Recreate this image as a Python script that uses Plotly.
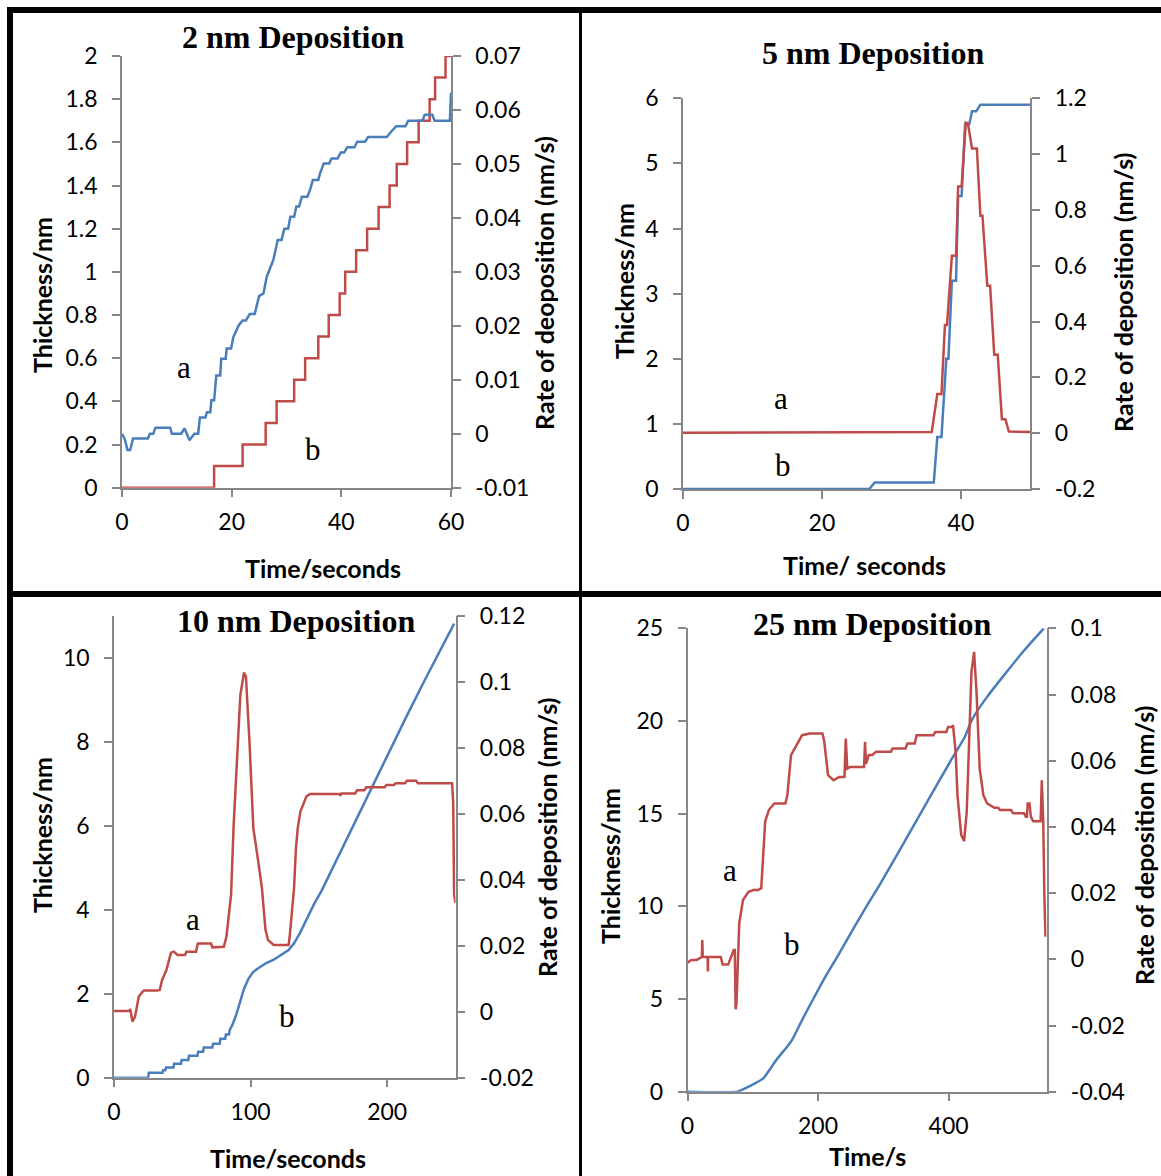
import plotly.graph_objects as go

W, H = 1161, 1176

# ---------------- data (time s, value) ----------------
# 2 nm deposition: thickness (red, step) and rate (blue)
thick_2nm_t = [0, 16.8, 22.0, 26.2, 28.2, 31.4, 33.4, 35.8, 37.7, 39.7, 40.7, 42.7,
               44.7, 46.8, 48.8, 50.1, 52.0, 54.1, 56.1, 57.1, 59.0, 60.0]
thick_2nm_v = [0, 0.1, 0.2, 0.3, 0.4, 0.5, 0.6, 0.7, 0.8, 0.9, 1.0, 1.1,
               1.2, 1.3, 1.4, 1.5, 1.6, 1.7, 1.8, 1.9, 2.0, 2.0]
rate_2nm = [(0, 0.0), (0.5, -0.001), (1.0, -0.003), (1.5, -0.003), (2.0, -0.0009), (4.7, -0.0009),
            (5.1, 0), (5.7, 0), (6.1, 0.0011), (8.8, 0.0011), (9.1, 0), (10.8, 0), (11.4, 0.001),
            (12.3, -0.0012), (13.2, 0), (13.9, 0), (14.2, 0.003), (15.2, 0.003), (15.5, 0.004),
            (16.1, 0.004), (16.3, 0.0062), (16.8, 0.0062), (17.2, 0.0108), (17.9, 0.0108),
            (18.1, 0.0139), (18.9, 0.0139), (19.1, 0.0158), (19.9, 0.0158), (20.3, 0.0179),
            (21.3, 0.0201), (22.0, 0.021), (22.6, 0.021), (23.3, 0.0222), (24.2, 0.0222),
            (25.0, 0.0255), (25.8, 0.026), (26.4, 0.0291), (27.6, 0.0322), (28.4, 0.0359),
            (29.1, 0.0359), (29.6, 0.038), (30.3, 0.038), (30.7, 0.0402), (31.4, 0.0402),
            (31.8, 0.0421), (32.3, 0.0421), (32.8, 0.0439), (33.8, 0.0439), (34.3, 0.0452),
            (34.8, 0.047), (35.8, 0.047), (36.1, 0.0482), (36.8, 0.0501), (37.8, 0.0501),
            (38.2, 0.051), (39.3, 0.051), (39.9, 0.0521), (40.5, 0.0521), (41.1, 0.0531),
            (42.4, 0.0531), (42.9, 0.0541), (44.3, 0.0541), (44.9, 0.055), (48.3, 0.055),
            (49.2, 0.0561), (50.0, 0.057), (51.7, 0.057), (52.2, 0.058), (54.8, 0.058),
            (55.2, 0.0591), (56.6, 0.0591), (57.0, 0.058), (59.8, 0.058), (60.0, 0.0632)]

# 5 nm deposition: thickness (blue) and rate (red)
thick_5nm = [(0, 0), (26.8, 0), (27.6, 0.1), (36.1, 0.1), (36.6, 0.8), (37.2, 0.8), (37.9, 2.0),
             (38.2, 2.0), (38.7, 3.2), (39.3, 3.2), (39.6, 4.5), (40.1, 4.5), (40.6, 5.6),
             (41.2, 5.6), (41.6, 5.8), (42.2, 5.8), (42.8, 5.9), (50, 5.9)]
rate_5nm = [(0, 0.002), (35.8, 0.004), (36.6, 0.14), (37.2, 0.14), (37.7, 0.388), (38.0, 0.388),
            (38.7, 0.636), (39.3, 0.636), (39.6, 0.884), (40.1, 0.884), (40.7, 1.113), (41.0, 1.11),
            (41.6, 1.02), (42.3, 1.02), (42.8, 0.779), (43.1, 0.779), (43.8, 0.528), (44.2, 0.528),
            (44.8, 0.281), (45.3, 0.281), (45.9, 0.05), (46.4, 0.05), (46.9, 0.006), (50, 0.004)]

# 10 nm deposition
thick_10nm = [(0, 0), (25.0, 0), (25.5, 0.12), (35.5, 0.12), (36.0, 0.18), (37.6, 0.18), (38.1, 0.24),
              (43.5, 0.24), (44.0, 0.33), (49.0, 0.33), (49.5, 0.42), (54.4, 0.42), (54.9, 0.52),
              (61.1, 0.52), (61.6, 0.62), (65.2, 0.62), (65.7, 0.72), (72.0, 0.72), (72.5, 0.81),
              (77.4, 0.81), (77.9, 0.93), (81.4, 0.93), (81.9, 1.03), (84.2, 1.03), (84.7, 1.13),
              (87.1, 1.29), (89.8, 1.53), (92.5, 1.84), (95.2, 2.12), (98.5, 2.36), (102, 2.52),
              (106.1, 2.62), (111.5, 2.73), (116.9, 2.81), (122.4, 2.92), (127.8, 3.04),
              (131.8, 3.2), (135.9, 3.43), (141.3, 3.79), (146.7, 4.15), (152.1, 4.46),
              (160.2, 5.0), (187.3, 6.84), (214.4, 8.62), (228, 9.5), (249, 10.81)]
rate_10nm = [(0, 0.0002), (11.3, 0.0002), (11.9, 0.0008), (13.5, -0.003), (15.4, -0.0015),
             (18.1, 0.0045), (20.8, 0.006), (22, 0.0064), (31.7, 0.0064), (33.5, 0.0066),
             (35.2, 0.0096), (38.4, 0.0126), (41.7, 0.0179), (43.8, 0.0182), (46.5, 0.0172),
             (52, 0.0172), (53, 0.0182), (60, 0.0182), (61.4, 0.0207), (71, 0.0207), (72, 0.0195),
             (79, 0.0195), (80.4, 0.0197), (82.3, 0.0227), (85.7, 0.0354), (87.6, 0.0566),
             (89.8, 0.076), (92.5, 0.096), (95.2, 0.1028), (96.6, 0.1015), (99.3, 0.0808),
             (102, 0.0556), (105.6, 0.0455), (108.3, 0.0374), (110.9, 0.0248), (112.8, 0.0217),
             (116.9, 0.0202), (127.8, 0.0202), (128.6, 0.0227), (130.5, 0.0328), (131.8, 0.0374),
             (133.2, 0.0495), (134.5, 0.0556), (136.4, 0.0606), (138.6, 0.0632), (140.8, 0.0652),
             (143.5, 0.066), (165, 0.066), (165.7, 0.0655), (166.5, 0.0661), (176.5, 0.0661),
             (177.9, 0.0671), (183.3, 0.0671), (184.6, 0.068), (198.1, 0.068), (199.5, 0.0687),
             (204.9, 0.0687), (206.3, 0.0692), (213, 0.0692), (214.4, 0.07), (221.2, 0.07),
             (222.5, 0.0692), (247.5, 0.0692), (248.3, 0.0636), (249, 0.0354), (250, 0.033)]

# 25 nm deposition
thick_25nm = [(0, 0), (76.5, 0), (85, 0.13), (102, 0.42), (116, 0.72), (136, 1.71), (158.6, 2.70),
              (175.6, 3.87), (192.6, 5.0), (209.6, 6.1), (232.3, 7.45), (255, 8.85),
              (277.6, 10.2), (293.5, 11.1), (345.6, 14.3), (402.3, 17.8), (425, 19.15),
              (436.3, 20.1), (459, 21.3), (515.6, 23.8), (546, 25.0)]
rate_25nm = [(0, -0.001), (5.7, -0.0002), (14, -0.0002), (22, 0.0007), (22.7, 0.0058), (23.4, 0.0007),
             (28, 0.0007), (30.8, 0.0007), (31.2, -0.0037), (31.6, 0.0007), (51, 0.0007),
             (53.8, -0.0016), (62.3, -0.0016), (65, -0.0002), (70.8, 0.0028), (72.5, 0.0028),
             (73.7, -0.0151), (75, -0.0135), (79.3, 0.0109), (85, 0.0179), (93.5, 0.0204),
             (102, 0.021), (107.6, 0.0209), (113, 0.0215), (115, 0.0295), (119, 0.0416),
             (124.6, 0.0451), (133, 0.0471), (150, 0.0471), (153, 0.0496), (158.6, 0.0617),
             (164.3, 0.0637), (175.6, 0.0677), (187, 0.0682), (206.8, 0.0682), (209.6, 0.0657),
             (215.3, 0.0556), (223.8, 0.0541), (232.3, 0.0551), (240.5, 0.0551), (242.5, 0.0667),
             (244.8, 0.0576), (249, 0.0581), (270.5, 0.0581), (272, 0.0657), (273.5, 0.059),
             (277.6, 0.0617), (283, 0.0617), (289, 0.0627), (311.6, 0.0627), (314, 0.0637),
             (334, 0.0637), (337, 0.0652), (348, 0.0652), (351, 0.0677), (376.8, 0.0677),
             (379.6, 0.0687), (396.6, 0.0687), (399.4, 0.0702), (405, 0.0702), (406.8, 0.0707),
             (410.8, 0.0627), (413.6, 0.0496), (419.3, 0.0376), (423.8, 0.0357), (427.8, 0.0446),
             (431.7, 0.0697), (435.1, 0.0869), (439.1, 0.0929), (443, 0.0799), (447.6, 0.0577),
             (453.3, 0.0496), (459, 0.0471), (470, 0.0458), (476, 0.0458), (478.7, 0.0451),
             (495.8, 0.0451), (498.6, 0.0441), (515.6, 0.0441), (518.4, 0.0431), (520, 0.0431),
             (521.2, 0.0471), (524, 0.0471), (526, 0.0431), (529.7, 0.0417), (541, 0.0417),
             (542.8, 0.0541), (545, 0.0417), (546.7, 0.0194), (548.4, 0.0068)]

# tick values / labels
t1_x = [0, 20, 40, 60]
t1_l = [0, 0.2, 0.4, 0.6, 0.8, 1, 1.2, 1.4, 1.6, 1.8, 2]
t1_ltxt = ["0", "0.2", "0.4", "0.6", "0.8", "1", "1.2", "1.4", "1.6", "1.8", "2"]
t1_r = [-0.01, 0, 0.01, 0.02, 0.03, 0.04, 0.05, 0.06, 0.07]
t1_rtxt = ["-0.01", "0", "0.01", "0.02", "0.03", "0.04", "0.05", "0.06", "0.07"]
t2_x = [0, 20, 40]
t2_l = [0, 1, 2, 3, 4, 5, 6]
t2_r = [-0.2, 0, 0.2, 0.4, 0.6, 0.8, 1.0, 1.2]
t2_rtxt = ["-0.2", "0", "0.2", "0.4", "0.6", "0.8", "1", "1.2"]
t3_x = [0, 100, 200]
t3_l = [0, 2, 4, 6, 8, 10]
t3_r = [-0.02, 0, 0.02, 0.04, 0.06, 0.08, 0.10, 0.12]
t3_rtxt = ["-0.02", "0", "0.02", "0.04", "0.06", "0.08", "0.1", "0.12"]
t4_x = [0, 200, 400]
t4_l = [0, 5, 10, 15, 20, 25]
t4_r = [-0.04, -0.02, 0, 0.02, 0.04, 0.06, 0.08, 0.10]
t4_rtxt = ["-0.04", "-0.02", "0", "0.02", "0.04", "0.06", "0.08", "0.1"]

titles = ["2 nm Deposition", "5 nm Deposition", "10 nm Deposition", "25 nm Deposition"]

# ---------------- styling ----------------
BLUE = "#4A7EBB"
RED = "#BE4B48"
AXC = "#868686"
TICKFONT = dict(family="Lato", size=23, color="black")
LW = 2.5
TF = 25  # axis title font size


def px(x):
    return x / W


def py(y):
    return 1 - y / H


def split(pairs):
    return [p[0] for p in pairs], [p[1] for p in pairs]


fig = go.Figure()

# panel 1
fig.add_trace(go.Scatter(x=thick_2nm_t, y=thick_2nm_v, mode="lines", line=dict(color=RED, width=LW, shape="hv"),
                         xaxis="x", yaxis="y", cliponaxis=False))
x_, y_ = split(rate_2nm)
fig.add_trace(go.Scatter(x=x_, y=y_, mode="lines", line=dict(color=BLUE, width=LW),
                         xaxis="x", yaxis="y2", cliponaxis=False))
# panel 2
x_, y_ = split(thick_5nm)
fig.add_trace(go.Scatter(x=x_, y=y_, mode="lines", line=dict(color=BLUE, width=LW),
                         xaxis="x2", yaxis="y3", cliponaxis=False))
x_, y_ = split(rate_5nm)
fig.add_trace(go.Scatter(x=x_, y=y_, mode="lines", line=dict(color=RED, width=LW),
                         xaxis="x2", yaxis="y4", cliponaxis=False))
# panel 3
x_, y_ = split(thick_10nm)
fig.add_trace(go.Scatter(x=x_, y=y_, mode="lines", line=dict(color=BLUE, width=LW),
                         xaxis="x3", yaxis="y5", cliponaxis=False))
x_, y_ = split(rate_10nm)
fig.add_trace(go.Scatter(x=x_, y=y_, mode="lines", line=dict(color=RED, width=LW),
                         xaxis="x3", yaxis="y6", cliponaxis=False))
# panel 4
x_, y_ = split(thick_25nm)
fig.add_trace(go.Scatter(x=x_, y=y_, mode="lines", line=dict(color=BLUE, width=LW, shape="spline", smoothing=0.6),
                         xaxis="x4", yaxis="y7", cliponaxis=False))
x_, y_ = split(rate_25nm)
fig.add_trace(go.Scatter(x=x_, y=y_, mode="lines", line=dict(color=RED, width=LW),
                         xaxis="x4", yaxis="y8", cliponaxis=False))


def axbase(standoff):
    return dict(showline=True, linecolor=AXC, linewidth=1.5, ticks="outside", ticklen=8,
                tickwidth=1.5, tickcolor=AXC, showgrid=False, zeroline=False, automargin=False,
                tickfont=TICKFONT, ticklabelstandoff=standoff, tickmode="array")


def xax(x0, x1, rng, tv, anchor):
    d = axbase(5)
    d.update(domain=[px(x0), px(x1)], range=rng, tickvals=tv, ticktext=[str(v) for v in tv], anchor=anchor)
    return d


def yax(ybot, ytop, rng, tv, tt, anchor):
    d = axbase(10)
    d.update(domain=[py(ybot), py(ytop)], range=rng, tickvals=tv, ticktext=tt, anchor=anchor, side="left")
    return d


def yax_r(rng, tv, tt, anchor, over):
    d = axbase(10)
    d.update(range=rng, tickvals=tv, ticktext=tt, anchor=anchor, side="right", overlaying=over)
    return d


layout = dict(
    width=W, height=H, margin=dict(l=0, r=0, t=0, b=0, autoexpand=False),
    paper_bgcolor="white", plot_bgcolor="rgba(0,0,0,0)", showlegend=False,
    xaxis=xax(122, 451, [0, 60], t1_x, "y"),
    yaxis=yax(487.7, 56, [0, 2], t1_l, t1_ltxt, "x"),
    yaxis2=yax_r([-0.01, 0.07], t1_r, t1_rtxt, "x", "y"),
    xaxis2=xax(683, 1030.4, [0, 50], t2_x, "y3"),
    yaxis3=yax(489, 98.3, [0, 6], t2_l, [str(v) for v in t2_l], "x2"),
    yaxis4=yax_r([-0.2, 1.2], t2_r, t2_rtxt, "x2", "y3"),
    xaxis3=xax(114, 455.5, [0, 250], t3_x, "y5"),
    yaxis5=yax(1077.7, 615.7, [0, 11], t3_l, [str(v) for v in t3_l], "x3"),
    yaxis6=yax_r([-0.02, 0.12], t3_r, t3_rtxt, "x3", "y5"),
    xaxis4=xax(687.5, 1046.5, [0, 550], t4_x, "y7"),
    yaxis7=yax(1091.7, 628.3, [0, 25], t4_l, [str(v) for v in t4_l], "x4"),
    yaxis8=yax_r([-0.04, 0.10], t4_r, t4_rtxt, "x4", "y7"),
)
fig.update_layout(**layout)

# borders
borders = [(7, 7, 1161, 13), (7, 7, 13, 1176), (579, 7, 582, 1176), (7, 591, 1161, 597)]
for (x0, y0, x1, y1) in borders:
    fig.add_shape(type="rect", xref="paper", yref="paper", x0=px(x0), x1=px(x1), y0=py(y1), y1=py(y0),
                  fillcolor="black", line=dict(width=0))

ann = []


def add_text(txt, x, y, family, size, bold=False, angle=0):
    ann.append(dict(text=txt, x=px(x), y=py(y), xref="paper", yref="paper", showarrow=False,
                    xanchor="center", yanchor="middle", textangle=angle,
                    font=dict(family=family, size=size, color="black", weight="bold" if bold else "normal")))


SERIF = "Liberation Serif"
# panel titles
add_text(titles[0], 293, 37, SERIF, 32, True)
add_text(titles[1], 873, 53, SERIF, 32, True)
add_text(titles[2], 296, 621, SERIF, 32, True)
add_text(titles[3], 872, 624, SERIF, 32, True)
# axis titles
add_text("Thickness/nm", 42, 295, "Lato", TF, True, -90)
add_text("Rate of deoposition (nm/s)", 544, 283, "Lato", TF, True, -90)
add_text("Time/seconds", 323, 568, "Lato", TF, True)
add_text("Thickness/nm", 624, 281, "Lato", TF, True, -90)
add_text("Rate of deposition (nm/s)", 1123, 293, "Lato", TF, True, -90)
add_text("Time/ seconds", 864, 565, "Lato", TF, True)
add_text("Thickness/nm", 42, 835, "Lato", TF, True, -90)
add_text("Rate of deposition (nm/s)", 547, 838, "Lato", TF, True, -90)
add_text("Time/seconds", 288, 1158, "Lato", TF, True)
add_text("Thickness/nm", 610, 866, "Lato", TF, True, -90)
add_text("Rate of deposition (nm/s)", 1144, 846, "Lato", TF, True, -90)
add_text("Time/s", 867, 1156, "Lato", TF, True)
# curve labels
add_text("a", 184, 367, SERIF, 31)
add_text("b", 313, 449, SERIF, 31)
add_text("a", 781, 398, SERIF, 31)
add_text("b", 783, 465, SERIF, 31)
add_text("a", 193, 919, SERIF, 31)
add_text("b", 287, 1016, SERIF, 31)
add_text("a", 730, 870, SERIF, 31)
add_text("b", 792, 944, SERIF, 31)

fig.update_layout(annotations=ann)

fig.write_html("out.html", config={"displayModeBar": False},
               post_script="document.body.style.margin='0px';document.body.style.overflow='hidden';")
